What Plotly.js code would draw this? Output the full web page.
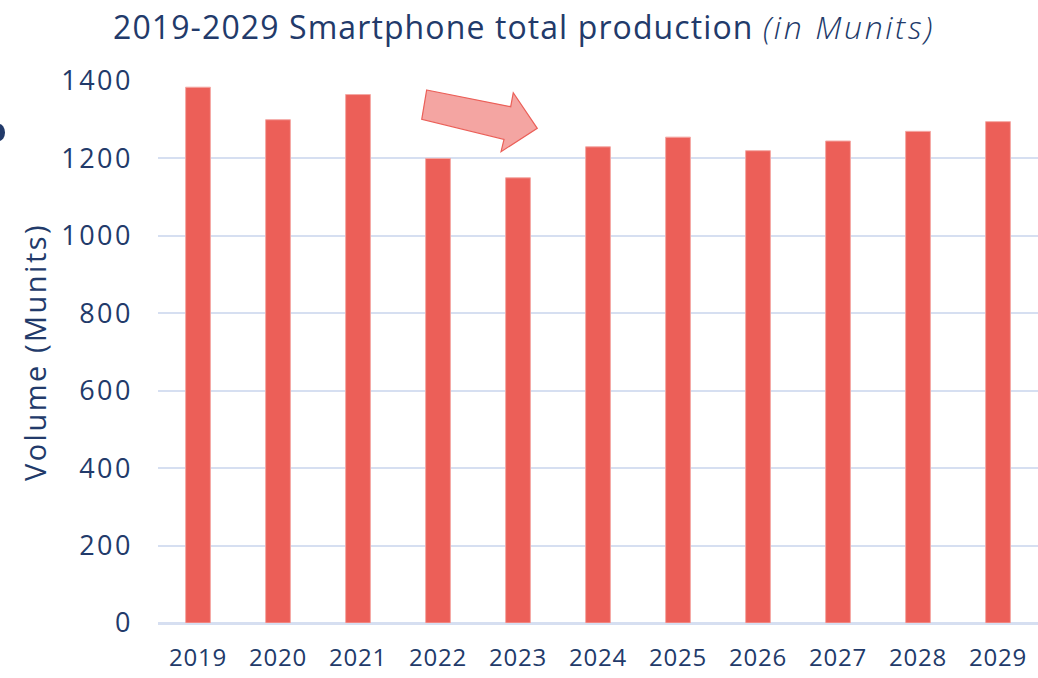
<!DOCTYPE html>
<html>
<head>
<meta charset="utf-8">
<script src="https://cdn.plot.ly/plotly-3.0.1.min.js"></script>
<style>
html,body{margin:0;padding:0;background:#fff;}
#chart{width:1038px;height:678px;}
#chart .ytick text{letter-spacing:2.5px;}
#chart .xtick text{letter-spacing:0.8px;}
#chart .gtitle{letter-spacing:1.1px;}
#chart .g-ytitle text{letter-spacing:2.5px;}
</style>
</head>
<body>
<div id="chart"></div>
<script>
const years = ["2019","2020","2021","2022","2023","2024","2025","2026","2027","2028","2029"];
const production = [1384, 1300, 1365, 1200, 1150, 1230, 1255, 1220, 1245, 1270, 1295];
const yTicks = [0, 200, 400, 600, 800, 1000, 1200, 1400];

const W = 1038, H = 678;
const M = {l: 158, r: 0, t: 81, b: 55};
const PW = W - M.l - M.r, PH = H - M.t - M.b;
const px = x => (x - M.l) / PW;
const py = y => (H - M.b - y) / PH;

const navy = "#223a6a";
const font = "Open Sans, sans-serif";

const arrowPts = [[426.7,90],[510.7,106.7],[513.3,92.7],[537.3,128.3],[501,151.7],[504,139.3],[421.7,119.3]];
const arrowPath = "M" + arrowPts.map(p => px(p[0]).toFixed(4) + "," + py(p[1]).toFixed(4)).join(" L") + " Z";

const trace = {
  type: "bar",
  x: years,
  y: production,
  marker: {color: "#ec5f58", line: {color: "#f4a8a4", width: 1}},
  hoverinfo: "x+y"
};

const layout = {
  width: W, height: H,
  margin: M,
  paper_bgcolor: "#ffffff",
  plot_bgcolor: "#ffffff",
  bargap: 0.69,
  showlegend: false,
  font: {family: font, color: navy},
  title: {
    text: "2019-2029 Smartphone total production <i><span style='font-weight:300;letter-spacing:2.6px'>(in Munits)</span></i>",
    font: {family: font, size: 32, color: navy},
    xref: "container", yref: "container",
    x: 113 / W, xanchor: "left",
    y: 1 - 28 / H, yanchor: "middle"
  },
  xaxis: {
    type: "category",
    tickfont: {family: font, size: 24, color: navy},
    showgrid: false,
    showline: true, linecolor: "#d6dff1", linewidth: 2,
    ticks: "", ticklabelstandoff: 12,
    fixedrange: true
  },
  yaxis: {
    range: [0, 1400],
    tickvals: yTicks,
    ticktext: yTicks.map(String),
    tickfont: {family: font, size: 27, color: navy},
    showgrid: true, gridcolor: "#d6dff1", gridwidth: 2,
    zeroline: true, zerolinecolor: "#d6dff1", zerolinewidth: 2,
    showline: false, ticks: "", ticklabelstandoff: 24,
    title: {text: "Volume (Munits)", font: {family: font, size: 29, color: navy}, standoff: 16},
    fixedrange: true
  },
  shapes: [
    {type: "path", xref: "paper", yref: "paper", path: arrowPath,
     fillcolor: "#f4a5a2", line: {color: "#eb5f58", width: 1.2}},
    {type: "circle", xref: "paper", yref: "paper",
     x0: px(-7), x1: px(5), y0: py(141), y1: py(124),
     fillcolor: navy, line: {width: 0}}
  ]
};

Plotly.newPlot("chart", [trace], layout, {displayModeBar: false, staticPlot: true});
</script>
</body>
</html>
